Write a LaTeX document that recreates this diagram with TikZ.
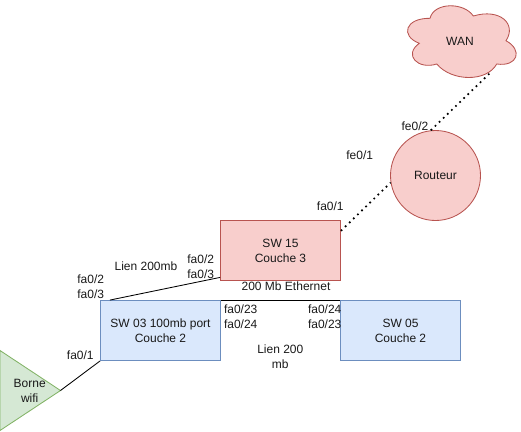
\documentclass[tikz,border=0pt]{standalone}
\usepackage{fontspec}
\setmainfont{Liberation Sans}
\tikzset{
  px/.style={x=1pt,y=-1pt},
  boxbase/.style={draw,line width=0.85pt,minimum width=120pt,minimum height=60pt,inner sep=0pt,align=center,font=\fontsize{12}{15}\selectfont,text=black!90},
  pinkbox/.style={boxbase,fill=pinkf,draw=pinkd},
  bluebox/.style={boxbase,fill=bluef,draw=blued},
  lab/.style={inner sep=0pt,align=center,font=\fontsize{12}{15}\selectfont,text=black!90},
  link/.style={draw=black,line width=0.85pt},
  dotlink/.style={draw=black,line width=1.7pt,dash pattern=on 1.7pt off 4pt},
  pinkshape/.style={fill=pinkf,draw=pinkd,line width=0.85pt},
  greenshape/.style={fill=greenf,draw=greend,line width=0.85pt,line join=miter}
}
\definecolor{pinkf}{HTML}{F8CECC}
\definecolor{pinkd}{HTML}{B85450}
\definecolor{bluef}{HTML}{DAE8FC}
\definecolor{blued}{HTML}{6C8EBF}
\definecolor{greenf}{HTML}{D5E8D4}
\definecolor{greend}{HTML}{82B366}
\begin{document}
\begin{tikzpicture}[px]
\useasboundingbox (0,0) rectangle (521,431);
% cloud
\draw[pinkshape] (430,18.3)
  .. controls (434,2) and (464,2) .. (473.3,16)
  .. controls (500,8) and (517,24) .. (506,40.7)
  .. controls (523,50) and (518,67) .. (496.7,64)
  .. controls (487,82) and (452,82) .. (436.7,64)
  .. controls (418,70) and (403,55) .. (419.3,43.3)
  .. controls (400,36) and (405,18) .. (430,18.3) -- cycle;
\node[lab] (wan) at (460,41.2) {WAN};
\coordinate (wanfoot) at (489.5,73.5);
% router
\node[circle,pinkshape,minimum size=90pt,inner sep=0pt,font=\fontsize{12}{15}\selectfont,text=black!90] (routeur) at (435.5,175.5) {Routeur};
% switches
\node[pinkbox] (sw15) at (280.5,250.5) {SW 15\\Couche 3};
\node[bluebox] (sw03) at (160.5,330.5) {SW 03 100mb port\\Couche 2};
\node[bluebox] (sw05) at (400.5,330.5) {SW 05\\Couche 2};
% access point
\draw[greenshape] (0,350.5) -- (60.5,390.5) -- (0,430.5) -- cycle;
\coordinate (bornetip) at (60.5,390.5);
\node[lab] (borne) at (29.7,391.2) {Borne\\wifi};
% connectors
\path[dotlink] (sw15.18.9) -- (routeur.189.6);
\path[dotlink] (routeur.96) -- (wanfoot);
\path[link] (sw03.149.3) -- (sw15.204.2);
\path[link] (sw03.north east) -- (sw05.north west);
\path[link] (bornetip) -- (sw03.south west);
% labels
\node[lab] (l1) at (90.7,286.7) {fa0/2\\fa0/3};
\node[lab] (l2) at (200.7,266.7) {fa0/2\\fa0/3};
\node[lab] (l3) at (146,266) {Lien 200mb};
\node[lab] (l4) at (80.3,355.6) {fa0/1};
\node[lab] (l5) at (240.7,317) {fa0/23\\fa0/24};
\node[lab] (l6) at (324.7,316.4) {fa0/24\\fa0/23};
\node[lab] (l7) at (286,286) {200 Mb Ethernet};
\node[lab] (l8) at (280.3,356.4) {Lien 200\\mb};
\node[lab] (l9) at (415,126) {fe0/2};
\node[lab] (l10) at (359.7,155.6) {fe0/1};
\node[lab] (l11) at (330.3,206) {fa0/1};
\end{tikzpicture}
\end{document}
